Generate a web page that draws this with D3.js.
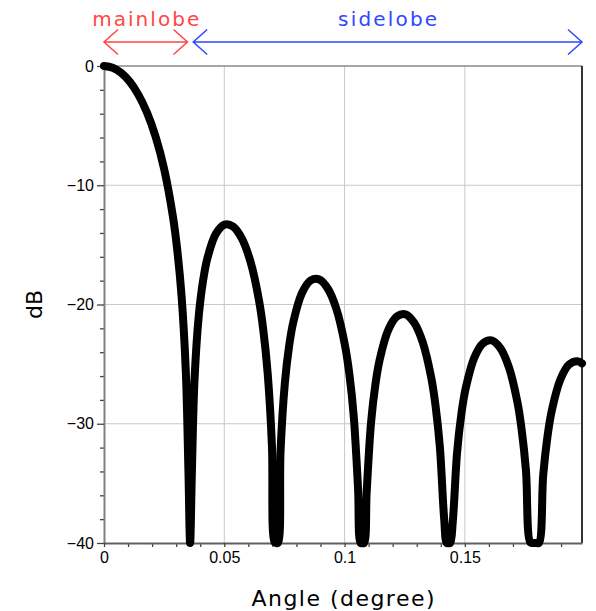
<!DOCTYPE html>
<html>
<head>
<meta charset="utf-8">
<script src="https://cdn.jsdelivr.net/npm/d3@7"></script>
<style>
	html, body { margin: 0; padding: 0; background: white; }
	svg { display: block; }
</style>
</head>
<body>
<script>
// array factor of the aperture (dB clipped at the -40 floor)
const angle = [
	0, 0.00358, 0.00716, 0.01074, 0.01432, 0.0179, 0.02148, 0.02506, 0.02864, 0.03043, 0.03222, 0.03401, 0.03508, 0.0358,
	0.03652, 0.03759, 0.03938, 0.04117, 0.04296, 0.04654, 0.05012, 0.0537, 0.05728, 0.06086, 0.06444, 0.06623, 0.06802, 0.06981, 0.07088, 0.0716,
	0.07232, 0.07339, 0.07518, 0.07697, 0.07876, 0.08234, 0.08592, 0.0895, 0.09308, 0.09666, 0.10024, 0.10203, 0.10382, 0.10561, 0.10668, 0.1074,
	0.10812, 0.10919, 0.11098, 0.11277, 0.11456, 0.11814, 0.12172, 0.1253, 0.12888, 0.13246, 0.13604, 0.13783, 0.13962, 0.14141, 0.14248, 0.1432,
	0.14392, 0.14499, 0.14678, 0.14857, 0.15036, 0.15394, 0.15752, 0.1611, 0.16468, 0.16826, 0.17184, 0.17363, 0.17542, 0.17721, 0.17828, 0.179,
	0.17972, 0.18079, 0.18258, 0.18437, 0.18616, 0.18974, 0.19332, 0.1969, 0.19869
];
const dB = [
	0, -0.14, -0.58, -1.33, -2.42, -3.92, -5.94, -8.69, -12.62, -15.39, -19.23, -25.61, -33.81, -40,
	-34.16, -26.48, -20.97, -18.02, -16.14, -14.06, -13.30, -13.47, -14.46, -16.39, -19.66, -22.15, -25.72, -31.85, -39.92, -40,
	-40, -32.29, -26.59, -23.45, -21.41, -19.02, -17.98, -17.90, -18.68, -20.41, -23.50, -25.90, -29.39, -35.45, -40, -40,
	-40, -35.74, -29.97, -26.77, -24.66, -22.15, -21.01, -20.82, -21.51, -23.15, -26.15, -28.51, -31.96, -37.99, -40, -40,
	-40, -38.20, -32.40, -29.16, -27.02, -24.45, -23.25, -23.01, -23.63, -25.23, -28.18, -30.52, -33.95, -39.95, -40, -40,
	-40, -40, -34.29, -31.04, -28.88, -26.27, -25.03, -24.75, -24.94
];

const xDomain = [0, 0.1987];
const yDomain = [-40, 0];
const xTicks = [0, 0.05, 0.1, 0.15];
const xMinor = [0.01, 0.02, 0.03, 0.04, 0.06, 0.07, 0.08, 0.09, 0.11, 0.12, 0.13, 0.14, 0.16, 0.17, 0.18, 0.19];
const yTicks = [0, -10, -20, -30, -40];
const yMinor = [-2, -4, -6, -8, -12, -14, -16, -18, -22, -24, -26, -28, -32, -34, -36, -38];

// annotation spans above the plot
const lobeNames = ["mainlobe", "sidelobe"];
const lobeSpans = [[0, 0.0347], [0.0371, 0.1987]];
const lobeColors = ["#ff4646", "#3246ff"];

const W = 596;
const H = 611;
const margin = { top: 66, right: 14, bottom: 68, left: 104 };
const TICK_FONT = "'Liberation Sans', Arial, sans-serif";
const LABEL_FONT = "'DejaVu Sans', sans-serif";

const x = d3.scaleLinear().domain(xDomain).range([margin.left, W - margin.right]);
const y = d3.scaleLinear().domain(yDomain).range([H - margin.bottom, margin.top]);

const svg = d3.select("body").append("svg")
	.attr("width", W)
	.attr("height", H);

// grid
svg.append("g")
	.selectAll("line")
	.data(xTicks.filter(d => d !== 0))
	.join("line")
	.attr("x1", d => x(d)).attr("x2", d => x(d))
	.attr("y1", y(-40)).attr("y2", y(0))
	.attr("stroke", "#c8c8c8");

svg.append("g")
	.selectAll("line")
	.data(yTicks.filter(d => d !== 0 && d !== -40))
	.join("line")
	.attr("x1", x(xDomain[0])).attr("x2", x(xDomain[1]))
	.attr("y1", d => y(d)).attr("y2", d => y(d))
	.attr("stroke", "#c8c8c8");

// frame: grey top, black right
svg.append("line")
	.attr("x1", x(xDomain[0])).attr("x2", x(xDomain[1]))
	.attr("y1", y(0)).attr("y2", y(0))
	.attr("stroke", "#8a8a8a").attr("stroke-width", 1.5);
svg.append("line")
	.attr("x1", x(xDomain[1])).attr("x2", x(xDomain[1]))
	.attr("y1", y(0)).attr("y2", y(-40))
	.attr("stroke", "#111").attr("stroke-width", 1.7);

const fmtY = d => d === 0 ? "0" : "\u2212" + Math.abs(d);

const styleAxis = (g, domainColor) => {
	g.select(".domain").attr("stroke", domainColor).attr("stroke-width", 2);
	g.selectAll(".tick line").attr("stroke", "#444").attr("stroke-width", 1.3);
	g.selectAll(".tick text")
		.attr("fill", "#000")
		.style("font-family", TICK_FONT)
		.style("font-size", "16px");
};

// y axis
svg.append("g")
	.attr("transform", `translate(${margin.left},0)`)
	.call(d3.axisLeft(y).tickValues(yMinor).tickSize(4).tickFormat(""))
	.call(g => g.select(".domain").remove())
	.call(g => g.selectAll(".tick line").attr("stroke", "#444").attr("stroke-width", 1.3));
svg.append("g")
	.attr("transform", `translate(${margin.left},0)`)
	.call(d3.axisLeft(y).tickValues(yTicks).tickSize(7).tickSizeOuter(0).tickPadding(3).tickFormat(fmtY))
	.call(g => styleAxis(g, "#808080"));

// x axis
svg.append("g")
	.attr("transform", `translate(0,${H - margin.bottom})`)
	.call(d3.axisBottom(x).tickValues(xMinor).tickSize(4).tickFormat(""))
	.call(g => g.select(".domain").remove())
	.call(g => g.selectAll(".tick line").attr("stroke", "#444").attr("stroke-width", 1.3));
svg.append("g")
	.attr("transform", `translate(0,${H - margin.bottom})`)
	.call(d3.axisBottom(x).tickValues(xTicks).tickSize(4).tickSizeOuter(0).tickPadding(5).tickFormat(d => String(d)))
	.call(g => styleAxis(g, "#606060"));

// the pattern
const line = d3.line()
	.x((d, i) => x(angle[i]))
	.y(d => y(d))
	.curve(d3.curveCatmullRom.alpha(0.5));

svg.append("path")
	.attr("d", line(dB))
	.attr("fill", "none")
	.attr("stroke", "#000")
	.attr("stroke-width", 8)
	.attr("stroke-linecap", "round")
	.attr("stroke-linejoin", "round");

// axis titles
svg.append("text")
	.attr("x", (x(xDomain[0]) + x(xDomain[1])) / 2)
	.attr("y", 606)
	.attr("text-anchor", "middle")
	.attr("textLength", 183)
	.attr("lengthAdjust", "spacing")
	.style("font-family", LABEL_FONT)
	.style("font-size", "22px")
	.text("Angle (degree)");

svg.append("text")
	.attr("transform", `translate(42,${(y(0) + y(-40)) / 2}) rotate(-90)`)
	.attr("text-anchor", "middle")
	.style("font-family", LABEL_FONT)
	.style("font-size", "22px")
	.text("dB");

// mainlobe / sidelobe arrows
const ARROW_Y = 42;
const HEAD_W = 14;
const HEAD_H = 12.5;
const lobes = svg.append("g")
	.selectAll("g")
	.data(lobeNames)
	.join("g")
	.attr("stroke", (d, i) => lobeColors[i])
	.attr("fill", "none")
	.attr("stroke-width", 1.5);

lobes.append("path")
	.attr("d", (d, i) => {
		const x0 = x(lobeSpans[i][0]);
		const x1 = x(lobeSpans[i][1]);
		return `M${x0},${ARROW_Y}H${x1}`
			+ `M${x0 + HEAD_W},${ARROW_Y - HEAD_H}L${x0},${ARROW_Y}L${x0 + HEAD_W},${ARROW_Y + HEAD_H}`
			+ `M${x1 - HEAD_W},${ARROW_Y - HEAD_H}L${x1},${ARROW_Y}L${x1 - HEAD_W},${ARROW_Y + HEAD_H}`;
	});

const labelWidths = [107, 99];
lobes.append("text")
	.attr("x", (d, i) => (x(lobeSpans[i][0]) + x(lobeSpans[i][1])) / 2)
	.attr("y", 26)
	.attr("text-anchor", "middle")
	.attr("stroke", "none")
	.attr("fill", (d, i) => lobeColors[i])
	.attr("textLength", (d, i) => labelWidths[i])
	.attr("lengthAdjust", "spacing")
	.style("font-family", LABEL_FONT)
	.style("font-size", "20px")
	.text(d => d);
</script>
</body>
</html>
